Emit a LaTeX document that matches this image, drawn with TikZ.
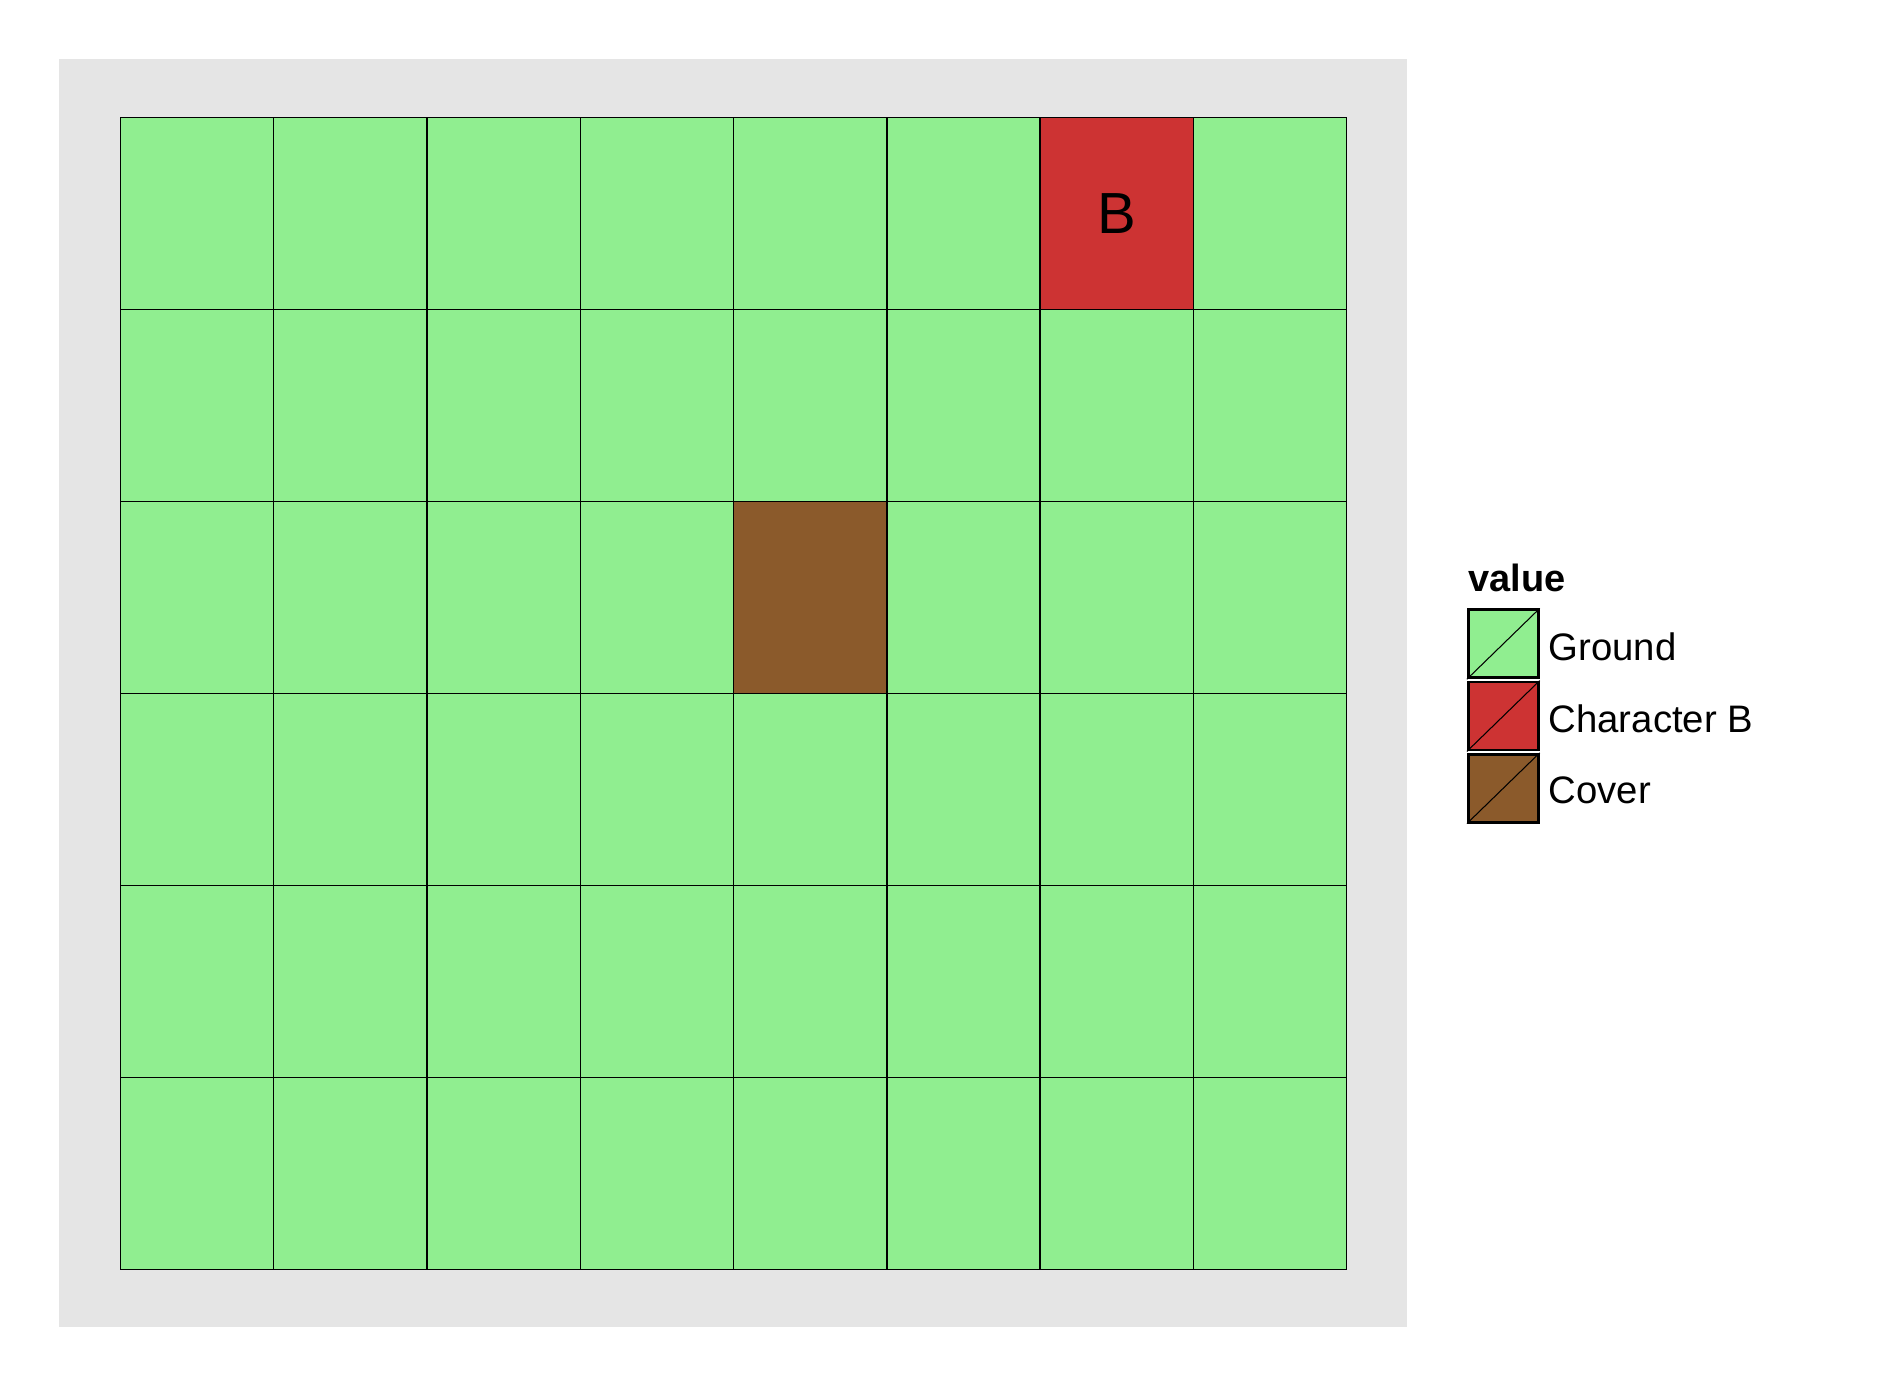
\documentclass[tikz,border=0pt]{standalone}
\usepackage{fontspec}
\setmainfont{Liberation Sans}
\usetikzlibrary{positioning}
\definecolor{GridGreen}{HTML}{90EE90}
\definecolor{GridRed}{HTML}{CD3333}
\definecolor{GridBrown}{HTML}{8B5A2B}
\definecolor{PanelGrey}{HTML}{E5E5E5}
\tikzset{
  keybox/.style={draw=black,line width=0.8pt,minimum width=0.70cm,minimum height=0.68cm,inner sep=0pt},
  keylabel/.style={anchor=base west,inner sep=0pt,font=\fontsize{10.9}{13}\selectfont},
}
\begin{document}
\begin{tikzpicture}[x=1cm,y=1cm]
\path[use as bounding box] (0,0) rectangle (18.79,13.87);
% panel and board
\fill[PanelGrey] (0.59,0.60) rectangle (14.07,13.28);
\fill[GridGreen] (1.203,1.177) rectangle (13.467,12.697);
\fill[GridRed] (10.401,10.777) rectangle (11.934,12.697);
\fill[GridBrown] (7.335,6.937) rectangle (8.868,8.857);
\draw[black,line width=0.4pt,shift={(1.203,1.177)},xstep=1.533,ystep=1.92] (0,0) grid (12.264,11.52);
\node[inner sep=0pt,font=\fontsize{16.5}{19}\selectfont] (labB) at (11.1675,11.737) {B};
% legend
\node[anchor=base west,inner sep=0pt,font=\fontsize{10.8}{13}\selectfont\bfseries] (ltitle) at (14.68,7.953) {value};
\node[keybox,fill=GridGreen] (kground) at (15.033,7.432) {};
\node[keybox,fill=GridRed] (kchar) at (15.033,6.710) {};
\node[keybox,fill=GridBrown] (kcover) at (15.033,5.988) {};
\draw[line width=0.3pt] (kground.south west) -- (kground.north east);
\draw[line width=0.3pt] (kchar.south west) -- (kchar.north east);
\draw[line width=0.3pt] (kcover.south west) -- (kcover.north east);
\node[keylabel] (lground) at (15.48,7.27) {Ground};
\node[keylabel] (lchar) at (15.48,6.543) {Character B};
\node[keylabel] (lcover) at (15.48,5.84) {Cover};
\end{tikzpicture}
\end{document}
